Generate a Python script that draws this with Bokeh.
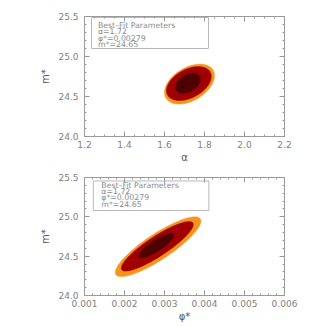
import numpy as np
from bokeh.plotting import figure
from bokeh.layouts import column
from bokeh.models import LinearAxis, PrintfTickFormatter, Range1d, BasicTicker, CustomJSTickFormatter
from bokeh.embed import file_html
from bokeh.resources import INLINE
from bokeh.core.properties import value

# ---- data ----
level_colors = ["#F7941E", "#A00000", "#4E0000"]

# top panel: alpha vs m*  (center x, center y, half-extent x, half-extent y, correlation)
top_cx = [1.725, 1.722, 1.717]
top_cy = [24.655, 24.662, 24.665]
top_sx = [0.125, 0.112, 0.062]
top_sy = [0.25, 0.212, 0.125]
top_rho = [0.42, 0.42, 0.4]

# bottom panel: phi* vs m*
bot_cx = [0.00284, 0.00282, 0.00280]
bot_cy = [24.62, 24.625, 24.635]
bot_sx = [0.00107, 0.00090, 0.00044]
bot_sy = [0.38, 0.315, 0.155]
bot_rho = [0.86, 0.88, 0.85]

legend_lines = ["Best\u2013Fit Parameters", "\u03b1=1.72", "\u03c6*=0.00279", "m*=24.65"]

GRAY = "#8a8a8a"
AXC = "#9a9a9a"
FONT = "DejaVu Sans"


def ellipse_xy(cx, cy, sx, sy, rho, n=120):
    t = np.linspace(0, 2 * np.pi, n)
    x = cx + sx * np.cos(t)
    y = cy + sy * (rho * np.cos(t) + np.sqrt(1 - rho ** 2) * np.sin(t))
    return list(x), list(y)


def style_axis(ax):
    ax.axis_line_color = AXC
    ax.major_tick_line_color = AXC
    ax.minor_tick_line_color = AXC
    ax.major_tick_in = 5
    ax.major_tick_out = 0
    ax.minor_tick_in = 2
    ax.minor_tick_out = 0
    ax.major_label_text_color = "#808080"
    ax.major_label_text_font = FONT
    ax.major_label_text_font_size = "9px"
    ax.axis_label_text_color = "#555555"
    ax.axis_label_text_font = FONT
    ax.axis_label_text_font_size = "10px"
    ax.axis_label_text_font_style = "normal"


def make_fig(xr, xfmt, xminor, cx, cy, sx, sy, rho, xlabel,
             box, text_x, text_base, fh, btop, bbot):
    p = figure(frame_width=200, frame_height=fh, output_backend="svg",
               toolbar_location=None, x_range=Range1d(*xr), y_range=Range1d(24.0, 25.5),
               min_border_left=84, min_border_right=30, min_border_top=btop,
               min_border_bottom=bbot)
    p.grid.visible = False
    p.outline_line_color = AXC
    p.background_fill_color = "white"
    p.border_fill_color = "white"

    xs, ys = [], []
    for i in range(3):
        ex, ey = ellipse_xy(cx[i], cy[i], sx[i], sy[i], rho[i])
        xs.append(ex)
        ys.append(ey)
    p.patches(xs, ys, fill_color=level_colors, line_color=level_colors, line_width=0.5)

    # legend box
    p.quad(left=[box[0]], right=[box[1]], bottom=[box[2]], top=[box[3]],
           fill_color="white", line_color="#b8b8b8", line_width=1)
    p.text(x=[text_x] * 4, y=text_base, text=legend_lines,
           text_font=value(FONT), text_font_size="7.8px", text_color=GRAY,
           text_baseline="alphabetic", text_align="left")

    xt = BasicTicker(desired_num_ticks=6, num_minor_ticks=xminor)
    yt = BasicTicker(desired_num_ticks=4, num_minor_ticks=5)
    p.xaxis.ticker = xt
    p.yaxis.ticker = yt
    p.xaxis.formatter = PrintfTickFormatter(format=xfmt)
    p.yaxis.formatter = PrintfTickFormatter(format="%.1f")
    p.xaxis.axis_label = xlabel
    p.yaxis.axis_label = "m*"
    for ax in p.xaxis + p.yaxis:
        style_axis(ax)
    p.xaxis.major_label_standoff = 4
    p.xaxis.axis_label_standoff = 1
    p.yaxis.major_label_standoff = 6
    p.yaxis.axis_label_standoff = 4

    blank = CustomJSTickFormatter(code="return ''")
    right = LinearAxis(ticker=yt, formatter=blank)
    above = LinearAxis(ticker=xt, formatter=blank)
    style_axis(right)
    style_axis(above)
    right.major_label_standoff = 0
    above.major_label_standoff = 0
    p.add_layout(right, "right")
    p.add_layout(above, "above")
    return p


p1 = make_fig((1.2, 2.2), "%.1f", 4, top_cx, top_cy, top_sx, top_sy, top_rho,
              "\u03b1", (1.235, 1.82, 25.10, 25.4875), 1.267,
              [25.3875, 25.309, 25.23, 25.15], 120, 16, 30)
p2 = make_fig((0.001, 0.006), "%.3f", 5, bot_cx, bot_cy, bot_sx, bot_sy, bot_rho,
              "\u03c6*", (0.00122, 0.00411, 25.08, 25.456), 0.00142,
              [25.392, 25.316, 25.24, 25.163], 118, 11, 24)

layout = column(p1, p2, spacing=0)
open("out.html", "w").write(file_html(layout, INLINE))
